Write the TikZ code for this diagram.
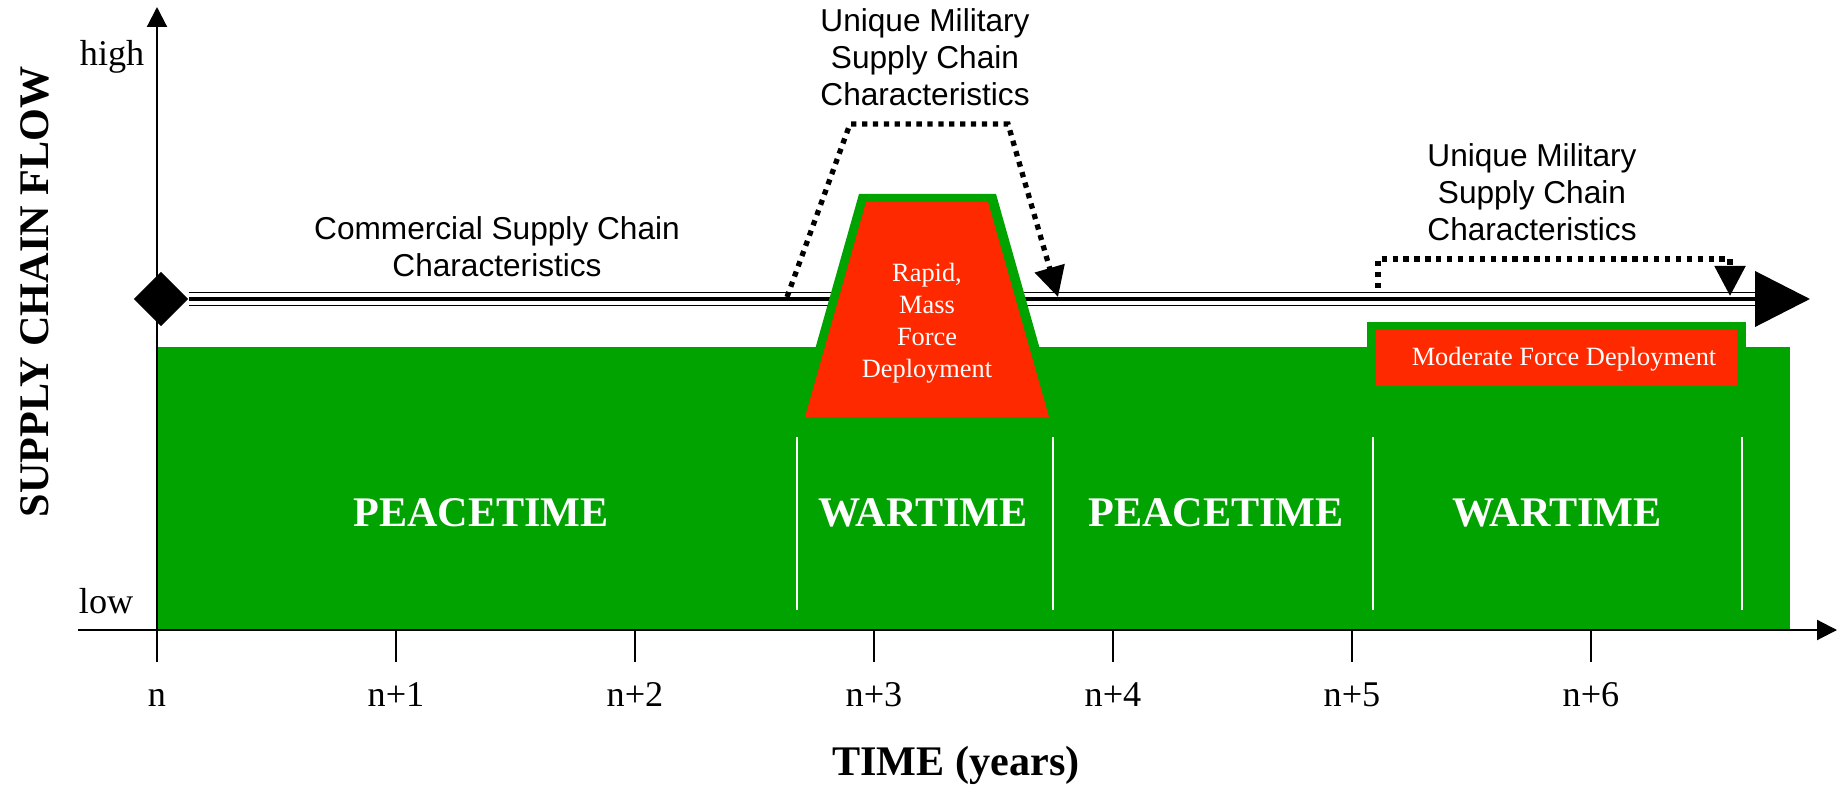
\documentclass[tikz,border=0pt]{standalone}
\usepackage{fontspec}
\setmainfont{Liberation Serif}
\newfontfamily\arialfont{Liberation Sans}
\usepackage{tikz}
\usetikzlibrary{
  arrows.meta,
  shapes.geometric
}
\definecolor{flowgreen}{RGB}{0,163,0}
\definecolor{deployred}{RGB}{255,41,0}
\tikzset{
  >={Triangle[length=0.2cm, width=0.2cm]},
  axis/.style={line width=0.6pt, ->},
  gap/.style={white, line width=0.6pt},
  period/.style={text=white, font=\fontsize{12pt}{14pt}\selectfont\bfseries},
  bigtitle/.style={font=\fontsize{12pt}{14pt}\selectfont\bfseries},
  deploy/.style={text=white, align=center, font=\fontsize{7.5pt}{9.1pt}\selectfont},
  traits/.style={align=center, font=\arialfont\fontsize{9pt}{10.6pt}\selectfont},
  ticklabel/.style={anchor=base, font=\fontsize{10.3pt}{12pt}\selectfont},
  level/.style={anchor=base east, inner sep=0pt, font=\fontsize{10.3pt}{12pt}\selectfont},
  dotarrow/.style={line width=1.5pt, dash pattern=on 1.5pt off 1.6pt,
    -{Triangle[length=0.3cm, width=0.3cm]}}
}

\begin{document}
\begin{tikzpicture}
    \useasboundingbox (-1.57,-1.55) rectangle (16.82,6.30);
    % supply chain line
    \node[diamond, fill=black, inner sep=0pt, minimum size=0.55cm] (flowstart) at (0.04,3.31) {};
    \coordinate (flowbase) at (15.98,3.31);
    \coordinate (flowtip) at (16.53,3.31);
    \draw[line width=0.38pt, double=white, double distance=0.117cm] (flowstart) -- (flowbase);
    \draw[line width=1.15pt, -{Triangle[length=0.55cm, width=0.55cm]}] (flowstart) -- (flowtip);

    % green flow area
    \fill[flowgreen] (0,0) rectangle (16.33,2.83);
    \fill[flowgreen] (7.02,4.36) -- (8.39,4.36) -- (8.86,2.70) -- (6.55,2.70) -- cycle;
    \fill[flowgreen] (12.10,2.70) rectangle (15.89,3.08);
    % deployments
    \fill[deployred] (7.09,4.28) -- (8.31,4.28) -- (8.92,2.13) -- (6.48,2.13) -- cycle;
    \fill[deployred] (12.19,2.44) rectangle (15.80,3.00);
    \node[deploy] (rapid) at (7.70,3.07) {Rapid,\\Mass\\Force\\Deployment};
    \node[deploy] (moderate) at (14.07,2.71) {Moderate Force Deployment};
    % periods
    \foreach \x in {6.40, 8.96, 12.16, 15.85}
      \draw[gap] (\x,0.20) -- (\x,1.93);
    \node[period] (peace1) at (3.24,1.17) {PEACETIME};
    \node[period] (war1) at (7.66,1.17) {WARTIME};
    \node[period] (peace2) at (10.59,1.17) {PEACETIME};
    \node[period] (war2) at (14.00,1.17) {WARTIME};

    \node[traits] (commercial) at (3.40,3.83) {Commercial Supply Chain\\Characteristics};
    \node[traits] (unique1) at (7.68,5.73) {Unique Military\\Supply Chain\\Characteristics};
    \node[traits] (unique2) at (13.75,4.38) {Unique Military\\Supply Chain\\Characteristics};

    % dotted arrows
    \coordinate (u1a) at (6.30,3.33);
    \coordinate (u1b) at (6.93,5.06);
    \coordinate (u1c) at (8.51,5.06);
    \coordinate (u1d) at (9.01,3.33);
    \draw[dotarrow] (u1a) -- (u1b) -- (u1c) -- (u1d);
    \coordinate (u2a) at (12.21,3.42);
    \coordinate (u2b) at (12.21,3.71);
    \coordinate (u2c) at (15.73,3.71);
    \coordinate (u2d) at (15.73,3.34);
    \draw[dotarrow] (u2a) -- (u2b) -- (u2c) -- (u2d);

    % axes
    \draw[axis] (-0.79,0) -- (16.80,0);
    \draw[axis] (0,0) -- (0,6.23);
    \foreach \k/\lab in {0/n, 1/n+1, 2/n+2, 3/n+3, 4/n+4, 5/n+5, 6/n+6} {
      \draw[line width=0.6pt] (2.39*\k,0) -- (2.39*\k,-0.32);
      \node[ticklabel] (tick\k) at (2.39*\k,-0.76) {\lab};
    }
    \node[level] (high) at (-0.12,5.64) {high};
    \node[level] (low) at (-0.23,0.17) {low};
    \node[bigtitle, anchor=base] (time) at (7.99,-1.45) {TIME (years)};
    \node[bigtitle, rotate=90] (flow) at (-1.22,3.38) {SUPPLY CHAIN FLOW};
\end{tikzpicture}
\end{document}
